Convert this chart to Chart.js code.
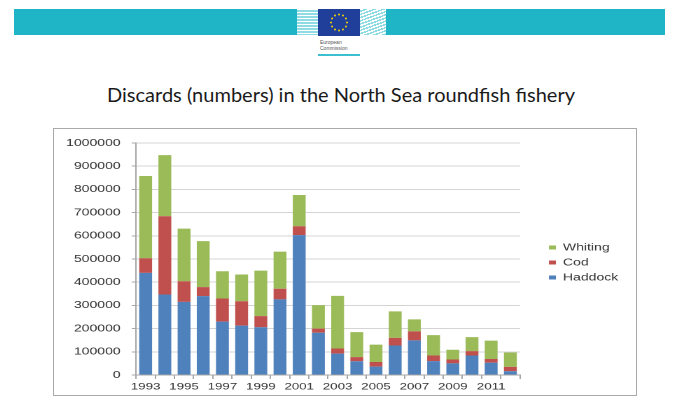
<!DOCTYPE html>
<html>
<head>
<meta charset="utf-8">
<script src="https://cdn.jsdelivr.net/npm/chart.js@4"></script>
<style>
  html, body { margin: 0; padding: 0; background: #fff; }
  #page { position: relative; width: 680px; height: 420px; overflow: hidden; background: #fff; }
  .band { position: absolute; top: 9px; height: 26px; background: #1fb4c6; }
  #stripesL { position: absolute; left: 297px; top: 9px; width: 21px; height: 26px;
    background: repeating-linear-gradient(180deg, #ffffff 0 1.5px, #8fdbe4 1.5px 3px); }
  #flag { position: absolute; left: 318px; top: 9px; width: 42px; height: 27px; background: #1f3f9a; }
  #stripesR { position: absolute; left: 360px; top: 9px; width: 26px; height: 26px;
    background: repeating-linear-gradient(160deg, #ffffff 0 1.5px, #8fdbe4 1.5px 3px); }
  #eutext { position: absolute; left: 320px; top: 39px; font: 5px "Liberation Sans", sans-serif; color: #555; line-height: 6px; }
  #euline { position: absolute; left: 318px; top: 54px; width: 42px; height: 2px; background: #3cc0d0; }
  #title { position: absolute; left: 107px; top: 82px; font: 20px Lato, sans-serif; color: #1a1a1a;
    white-space: nowrap; transform-origin: 0 0; }
  #box { position: absolute; left: 53px; top: 128px; width: 582px; height: 266px; border: 1px solid #a9a9a9; }
  #wrap { position: absolute; left: 0; top: 0; width: 416px; height: 266px; transform: scaleX(1.4); transform-origin: 0 0; }
</style>
</head>
<body>
<div id="page">
  <div class="band" style="left:14px; width:283px;"></div>
  <div class="band" style="left:386px; width:279px;"></div>
  <div id="stripesL"></div>
  <div id="flag"><svg width="42" height="27" viewBox="0 0 42 27" id="stars"></svg></div>
  <div id="stripesR"></div>
  <div id="eutext">European<br>Commission</div>
  <div id="euline"></div>
  <div id="title">Discards (numbers) in the North Sea roundfish fishery</div>
  <div id="box"><div id="wrap"><canvas id="c" width="416" height="266"></canvas></div></div>
</div>
<script>
// ---- data ----
const years = ["1993","1994","1995","1996","1997","1998","1999","2000","2001","2002",
               "2003","2004","2005","2006","2007","2008","2009","2010","2011","2012"];
const haddock = [440000,347000,315000,340000,230000,213000,206000,326000,603000,182000,
                 92000,59000,36000,127000,149000,60000,50000,84000,53000,16000];
const cod     = [63000,337000,89000,39000,100000,105000,48000,46000,38000,18000,
                 22000,18000,20000,33000,39000,24000,17000,19000,16000,19000];
const whiting = [355000,264000,227000,198000,117000,115000,196000,160000,135000,101000,
                 227000,108000,75000,114000,52000,88000,42000,60000,79000,62000];
const yTicks = [0,100000,200000,300000,400000,500000,600000,700000,800000,900000,1000000];

// stars of the flag
(function(){
  const svg = document.getElementById('stars');
  let s = '';
  for (let i = 0; i < 12; i++) {
    const a = i * Math.PI / 6;
    const x = 21 + 8 * Math.sin(a), y = 13.5 - 8 * Math.cos(a);
    s += '<circle cx="' + x.toFixed(2) + '" cy="' + y.toFixed(2) + '" r="1" fill="#f5d400"/>';
  }
  svg.innerHTML = s;
})();

// fit title width
(function(){
  const t = document.getElementById('title');
  const w = t.getBoundingClientRect().width;
  t.style.transform = 'scaleX(' + (468 / w) + ')';
})();

const fontFam = '"Liberation Sans", Arial, sans-serif';
const ctx = document.getElementById('c').getContext('2d');
new Chart(ctx, {
  type: 'bar',
  data: {
    labels: years,
    datasets: [
      { label: 'Haddock', data: haddock, backgroundColor: '#4f81bd' },
      { label: 'Cod',     data: cod,     backgroundColor: '#c0504d' },
      { label: 'Whiting', data: whiting, backgroundColor: '#9bbb59' }
    ]
  },
  options: {
    responsive: false,
    devicePixelRatio: 2,
    animation: false,
    layout: { padding: { top: 11, right: 3, left: 0, bottom: 0 } },
    datasets: { bar: { barPercentage: 0.67, categoryPercentage: 1.0 } },
    plugins: {
      tooltip: { enabled: false },
      legend: {
        position: 'right',
        fullSize: false,
        reverse: true,
        title: { display: true, text: ' ', padding: 0, font: { size: 5, lineHeight: 1.4 } },
        labels: { boxWidth: 5, boxHeight: 4, padding: 5, color: '#333333',
                  font: { family: fontFam, size: 10 } }
      }
    },
    scales: {
      x: {
        stacked: true,
        grid: { display: true, drawOnChartArea: false, drawTicks: true, tickLength: 4, color: '#a6a6a6', offset: true },
        border: { display: true, color: '#a6a6a6' },
        ticks: {
          autoSkip: false, maxRotation: 0, minRotation: 0, padding: 2,
          color: '#333333', font: { family: fontFam, size: 9.5 },
          callback: function(v, i) { return i % 2 === 0 ? years[i] : ''; }
        },
        afterFit: function(s) { s.height = 20; }
      },
      y: {
        stacked: true,
        min: 0, max: 1000000,
        afterBuildTicks: function(s) { s.ticks = yTicks.map(v => ({ value: v })); },
        grid: { color: '#d4d4d4', tickColor: '#a6a6a6', tickLength: 3 },
        border: { display: true, color: '#a6a6a6' },
        ticks: { padding: 8, color: '#333333', font: { family: fontFam, size: 10 },
                 callback: function(v) { return String(v); } },
        afterFit: function(s) { s.width = 58.6; }
      },
      gap: {
        position: 'right', display: true,
        grid: { display: false, drawTicks: false },
        border: { display: false },
        ticks: { display: false },
        afterFit: function(s) { s.width = 15.7; }
      }
    }
  }
});
</script>
</body>
</html>
